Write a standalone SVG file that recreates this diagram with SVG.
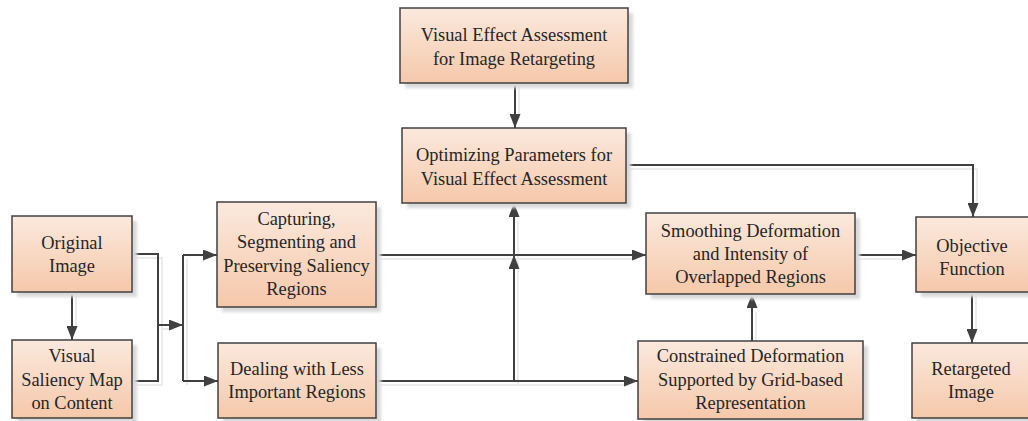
<svg xmlns="http://www.w3.org/2000/svg" width="1028" height="421" viewBox="0 0 1028 421">
  <defs>
    <linearGradient id="g" x1="0" y1="0" x2="0" y2="1">
      <stop offset="0" stop-color="#fbe9dd"/>
      <stop offset="1" stop-color="#f5c8aa"/>
    </linearGradient>
    <filter id="blur" x="-10%" y="-10%" width="130%" height="130%">
      <feGaussianBlur stdDeviation="1.5"/>
    </filter>
    <marker id="arr" markerUnits="userSpaceOnUse" markerWidth="15" markerHeight="11" refX="14" refY="5.5" orient="auto">
      <path d="M0,0 L14,5.5 L0,11 z" fill="#404040"/>
    </marker>
  </defs>
  <style>
    .box { fill: url(#g); stroke: #404040; stroke-width: 1.5; }
    .sh { fill: #d9d9d9; filter: url(#blur); }
    .t { font-family: "Liberation Serif", "Times New Roman", serif; font-size: 18.4px; fill: #262626; text-anchor: middle; }
    .c { fill: none; stroke: #404040; stroke-width: 2; }
    .cs { fill: none; stroke: #ececec; stroke-width: 2; }
  </style>
  <rect width="1028" height="421" fill="#ffffff"/>

  <g id="connector-shadows" transform="translate(4,4)">
    <path class="cs" d="M72,292 V326"/>
    <path class="cs" d="M132,254 H158 V381 H132"/>
    <path class="cs" d="M158,325 H170"/>
    <path class="cs" d="M183,255 V381"/>
    <path class="cs" d="M515,83 V114"/>
    <path class="cs" d="M626,165 H973 V203"/>
    <path class="cs" d="M376,255 H632"/>
    <path class="cs" d="M376,381 H624"/>
    <path class="cs" d="M514,381 V217"/>
    <path class="cs" d="M752,341 V308"/>
    <path class="cs" d="M855,255 H902"/>
    <path class="cs" d="M972,292 V329"/>
  </g>

  <g id="connectors">
    <path class="c" d="M72,292 V340" marker-end="url(#arr)"/>
    <path class="c" d="M132,254 H158 V381 H132"/>
    <path class="c" d="M158,325 H183" marker-end="url(#arr)"/>
    <path class="c" d="M183,255 V381"/>
    <path class="c" d="M183,255 H217" marker-end="url(#arr)"/>
    <path class="c" d="M183,381 H218" marker-end="url(#arr)"/>
    <path class="c" d="M515,83 V128" marker-end="url(#arr)"/>
    <path class="c" d="M626,165 H973 V217" marker-end="url(#arr)"/>
    <path class="c" d="M376,255 H646" marker-end="url(#arr)"/>
    <path class="c" d="M376,381 H638" marker-end="url(#arr)"/>
    <path class="c" d="M514,381 V255" marker-end="url(#arr)"/>
    <path class="c" d="M514,255 V203" marker-end="url(#arr)"/>
    <path class="c" d="M752,341 V294" marker-end="url(#arr)"/>
    <path class="c" d="M855,255 H916" marker-end="url(#arr)"/>
    <path class="c" d="M972,292 V343" marker-end="url(#arr)"/>
  </g>

  <g id="original-image">
    <rect class="sh" x="17" y="221" width="120" height="76"/>
    <rect class="box" x="12" y="216" width="120" height="76"/>
    <text class="t" x="72" y="249">Original</text>
    <text class="t" x="72" y="272">Image</text>
  </g>

  <g id="visual-saliency-map">
    <rect class="sh" x="17" y="345" width="120" height="78"/>
    <rect class="box" x="12" y="340" width="120" height="78"/>
    <text class="t" x="72" y="362">Visual</text>
    <text class="t" x="72" y="386">Saliency Map</text>
    <text class="t" x="72" y="409">on Content</text>
  </g>

  <g id="capturing">
    <rect class="sh" x="222" y="207" width="159" height="105"/>
    <rect class="box" x="217" y="202" width="159" height="105"/>
    <text class="t" x="296.5" y="225">Capturing,</text>
    <text class="t" x="296.5" y="248">Segmenting and</text>
    <text class="t" x="296.5" y="272">Preserving Saliency</text>
    <text class="t" x="296.5" y="295">Regions</text>
  </g>

  <g id="dealing">
    <rect class="sh" x="223" y="348" width="158" height="75"/>
    <rect class="box" x="218" y="343" width="158" height="75"/>
    <text class="t" x="297" y="375">Dealing with Less</text>
    <text class="t" x="297" y="398">Important Regions</text>
  </g>

  <g id="visual-effect-assessment">
    <rect class="sh" x="405" y="13" width="228" height="75"/>
    <rect class="box" x="400" y="8" width="228" height="75"/>
    <text class="t" x="514" y="41">Visual Effect Assessment</text>
    <text class="t" x="514" y="65">for Image Retargeting</text>
  </g>

  <g id="optimizing">
    <rect class="sh" x="407" y="133" width="224" height="75"/>
    <rect class="box" x="402" y="128" width="224" height="75"/>
    <text class="t" x="514" y="161">Optimizing Parameters for</text>
    <text class="t" x="514" y="185">Visual Effect Assessment</text>
  </g>

  <g id="smoothing">
    <rect class="sh" x="651" y="218" width="209" height="81"/>
    <rect class="box" x="646" y="213" width="209" height="81"/>
    <text class="t" x="750.5" y="237">Smoothing Deformation</text>
    <text class="t" x="750.5" y="260">and Intensity of</text>
    <text class="t" x="750.5" y="283">Overlapped Regions</text>
  </g>

  <g id="constrained">
    <rect class="sh" x="643" y="346" width="225" height="78"/>
    <rect class="box" x="638" y="341" width="225" height="78"/>
    <text class="t" x="750.5" y="362">Constrained Deformation</text>
    <text class="t" x="750.5" y="386">Supported by Grid-based</text>
    <text class="t" x="750.5" y="409">Representation</text>
  </g>

  <g id="objective-function">
    <rect class="sh" x="921" y="222" width="114" height="75"/>
    <rect class="box" x="916" y="217" width="114" height="75"/>
    <text class="t" x="972" y="252">Objective</text>
    <text class="t" x="972" y="275">Function</text>
  </g>

  <g id="retargeted-image">
    <rect class="sh" x="917" y="348" width="118" height="75"/>
    <rect class="box" x="912" y="343" width="118" height="75"/>
    <text class="t" x="971" y="375">Retargeted</text>
    <text class="t" x="971" y="398">Image</text>
  </g>
</svg>
